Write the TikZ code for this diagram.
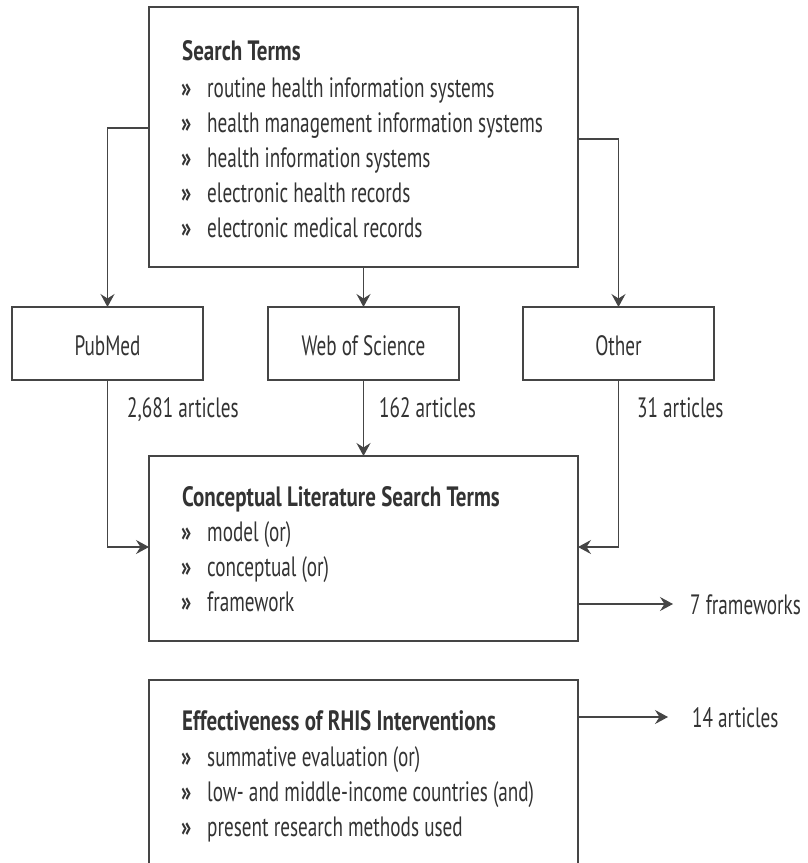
\documentclass[tikz,border=0pt]{standalone}
\usepackage{fontspec}
\setmainfont{PT Sans}[FakeStretch=0.685,BoldFeatures={FakeStretch=0.75}]
\usetikzlibrary{arrows.meta}
\definecolor{txt}{HTML}{333333}
\definecolor{ln}{HTML}{454545}
\begin{document}
\begin{tikzpicture}[x=1pt,y=-1pt,
  box/.style={draw=ln, line width=1.1pt, rectangle, inner sep=0pt, outer sep=0pt, anchor=north west},
  ttl/.style={text=txt, font=\fontsize{28}{28}\selectfont\bfseries, inner sep=0pt, anchor=base west},
  itm/.style={text=txt, font=\fontsize{28}{28}\selectfont, inner sep=0pt, anchor=base west},
  bul/.style={text=txt, font=\fontsize{28}{28}\selectfont\bfseries, inner sep=0pt, anchor=base west},
  lbl/.style={text=txt, font=\fontsize{28}{28}\selectfont, inner sep=0pt, anchor=base},
  arr/.style={draw=ln, line width=1.1pt, -{Stealth[length=13pt,width=14pt,inset=4.5pt]}},
  con/.style={draw=ln, line width=1.1pt}]
\clip (0,0) rectangle (807,863);
\fill[white] (0,0) rectangle (807,863);
% boxes
\node[box, minimum width=429pt, minimum height=260pt] (st) at (149,7) {};
\node[box, minimum width=191pt, minimum height=73pt] (pub) at (12,307) {};
\node[box, minimum width=191pt, minimum height=73pt] (wos) at (268,307) {};
\node[box, minimum width=191pt, minimum height=73pt] (oth) at (523,307) {};
\node[box, minimum width=429pt, minimum height=185pt] (conc) at (149,456) {};
\node[box, minimum width=429pt, minimum height=230pt] (eff) at (149,680) {};
% search terms text
\node[ttl] (st0) at (182,60) {Search Terms};
\foreach \i/\t in {1/routine health information systems,2/health management information systems,3/health information systems,4/electronic health records,5/electronic medical records}{
  \node[bul] (stb\i) at (181,{97+35*(\i-1)}) {»};
  \node[itm] (st\i) at (207,{97+35*(\i-1)}) {\t};
}
% source boxes labels
\node[lbl] (pubt) at (107.5,355) {PubMed};
\node[lbl] (wost) at (363.5,355) {Web of Science};
\node[lbl] (otht) at (618.5,355) {Other};
% counts
\node[itm] (c1) at (127,417) {2,681 articles};
\node[itm] (c2) at (379,417) {162 articles};
\node[itm] (c3) at (637,417) {31 articles};
% conceptual text
\node[ttl] (cc0) at (182,506) {Conceptual Literature Search Terms};
\foreach \i/\t in {1/model (or),2/conceptual (or),3/framework}{
  \node[bul] (ccb\i) at (181,{541+35*(\i-1)}) {»};
  \node[itm] (cc\i) at (207,{541+35*(\i-1)}) {\t};
}
% effectiveness text
\node[ttl] (ef0) at (182,730) {Effectiveness of RHIS Interventions};
\foreach \i/\t in {1/summative evaluation (or),2/low- and middle-income countries (and),3/present research methods used}{
  \node[bul] (efb\i) at (181,{766+35*(\i-1)}) {»};
  \node[itm] (ef\i) at (207,{766+35*(\i-1)}) {\t};
}
\node[itm] (fw) at (690,614) {7 frameworks};
\node[itm] (ea) at (692,727) {14 articles};
% coordinates
\coordinate (lk) at (149,128);
\coordinate (rk) at (578,139);
\coordinate (cin1) at (149,547);
\coordinate (cin2) at (578,547);
\coordinate (fwo) at (578,604);
\coordinate (fwt) at (673,604);
\coordinate (eao) at (578,717);
\coordinate (eat) at (668,717);
% connectors
\draw[arr] (lk) -| (pub.north);
\draw[arr] (st.south -| wos.north) -- (wos.north);
\draw[arr] (rk) -| (oth.north);
\draw[arr] (pub.south) |- (cin1);
\draw[arr] (wos.south) -- (wos.south |- conc.north);
\draw[arr] (oth.south) |- (cin2);
\draw[arr] (fwo) -- (fwt);
\draw[arr] (eao) -- (eat);
\end{tikzpicture}
\end{document}
